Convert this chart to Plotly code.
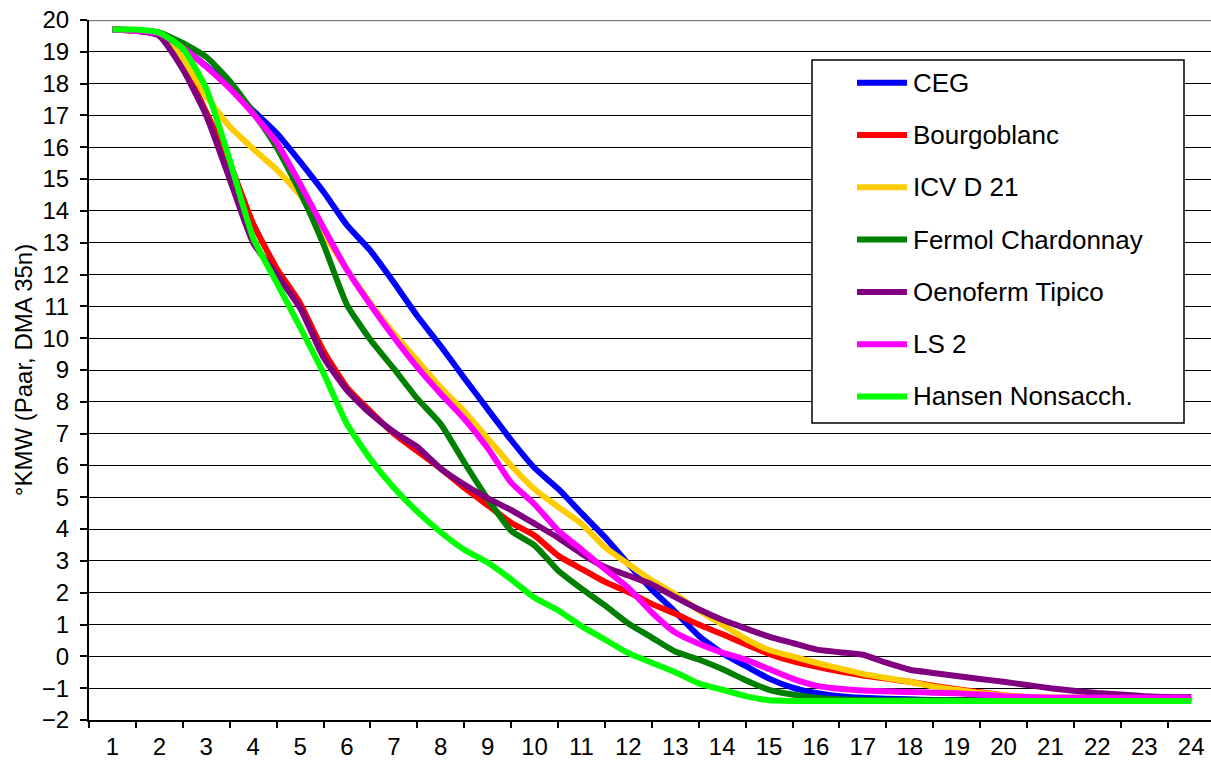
import plotly.graph_objects as go

# ---------------- data ----------------
DAYS = [1, 1.5, 2, 2.5, 3, 3.5, 4, 4.5, 5, 5.5, 6, 6.5, 7, 7.5, 8, 8.5, 9, 9.5,
        10, 10.5, 11, 11.5, 12, 12.5, 13, 13.5, 14, 14.5, 15, 15.5, 16, 16.5,
        17, 17.5, 18, 18.5, 19, 19.5, 20, 20.5, 21, 21.5, 22, 22.5, 23, 23.5, 24]

DAY_LABELS = ["1", "2", "3", "4", "5", "6", "7", "8", "9", "10", "11", "12",
              "13", "14", "15", "16", "17", "18", "19", "20", "21", "22", "23", "24"]

CEG = [19.7, 19.68, 19.6, 19.12, 18.55, 17.9, 17.15, 16.45, 15.55, 14.6,
       13.55, 12.75, 11.75, 10.7, 9.75, 8.75, 7.77, 6.8, 5.92, 5.27,
       4.5, 3.75, 2.9, 2.1, 1.4, 0.65, 0.1, -0.3, -0.7, -0.98,
       -1.15, -1.25, -1.3, -1.33, -1.35, -1.37, -1.37, -1.37, -1.37, -1.37,
       -1.37, -1.37, -1.37, -1.37, -1.37, -1.37, -1.37]

BOURGOBLANC = [19.7, 19.66, 19.55, 18.6, 17.1, 15.5, 13.6, 12.2, 11.1, 9.6,
               8.45, 7.7, 7.0, 6.45, 5.9, 5.3, 4.75, 4.2, 3.8, 3.17,
               2.75, 2.34, 2.02, 1.65, 1.34, 1.0, 0.7, 0.38, 0.08, -0.15,
               -0.32, -0.47, -0.6, -0.7, -0.8, -0.92, -1.03, -1.13, -1.22, -1.28,
               -1.3, -1.3, -1.3, -1.3, -1.3, -1.3, -1.3]

ICV_D21 = [19.7, 19.66, 19.55, 18.78, 17.6, 16.65, 15.95, 15.3, 14.5, 13.3,
           12.15, 11.1, 10.15, 9.3, 8.45, 7.7, 6.85, 6.0, 5.25, 4.7,
           4.17, 3.43, 2.9, 2.39, 1.95, 1.45, 1.0, 0.55, 0.2, 0.0,
           -0.2, -0.38, -0.55, -0.68, -0.8, -0.95, -1.05, -1.15, -1.22, -1.28,
           -1.3, -1.3, -1.3, -1.3, -1.3, -1.3, -1.3]

FERMOL = [19.7, 19.68, 19.6, 19.28, 18.84, 18.08, 17.1, 16.0, 14.6, 12.95,
          11.05, 9.95, 9.04, 8.1, 7.3, 6.1, 4.95, 3.95, 3.49, 2.7,
          2.13, 1.6, 1.03, 0.59, 0.15, -0.1, -0.4, -0.75, -1.05, -1.2,
          -1.3, -1.35, -1.37, -1.38, -1.38, -1.38, -1.38, -1.38, -1.38, -1.38,
          -1.38, -1.38, -1.38, -1.38, -1.38, -1.38, -1.38]

OENOFERM = [19.7, 19.66, 19.5, 18.45, 17.0, 15.0, 13.0, 12.0, 10.95, 9.4,
            8.36, 7.63, 7.05, 6.58, 5.9, 5.4, 4.97, 4.6, 4.17, 3.73,
            3.23, 2.81, 2.54, 2.26, 1.86, 1.48, 1.15, 0.88, 0.62, 0.42,
            0.22, 0.13, 0.05, -0.2, -0.42, -0.52, -0.62, -0.71, -0.8, -0.9,
            -1.0, -1.08, -1.15, -1.2, -1.25, -1.28, -1.28]

LS2 = [19.7, 19.66, 19.58, 19.13, 18.53, 17.85, 17.05, 16.15, 14.85, 13.47,
       12.15, 11.05, 10.03, 9.09, 8.25, 7.47, 6.55, 5.46, 4.78, 3.96,
       3.36, 2.74, 2.15, 1.38, 0.75, 0.4, 0.12, -0.1, -0.4, -0.7,
       -0.92, -1.02, -1.07, -1.1, -1.12, -1.14, -1.16, -1.2, -1.25, -1.28,
       -1.3, -1.3, -1.3, -1.3, -1.3, -1.3, -1.3]

HANSEN = [19.7, 19.7, 19.6, 19.1, 17.85, 15.6, 13.15, 11.75, 10.35, 8.9,
          7.3, 6.2, 5.3, 4.55, 3.9, 3.35, 2.95, 2.42, 1.84, 1.45,
          0.95, 0.53, 0.1, -0.2, -0.5, -0.85, -1.05, -1.25, -1.38, -1.4,
          -1.4, -1.4, -1.4, -1.4, -1.4, -1.4, -1.4, -1.4, -1.4, -1.4,
          -1.4, -1.4, -1.4, -1.4, -1.4, -1.4, -1.4]

SERIES_NAMES = ["CEG", "Bourgoblanc", "ICV D 21", "Fermol Chardonnay",
                "Oenoferm Tipico", "LS 2", "Hansen Nonsacch."]
SERIES_VALUES = [CEG, BOURGOBLANC, ICV_D21, FERMOL, OENOFERM, LS2, HANSEN]
SERIES_COLORS = ["#0000FF", "#FF0000", "#FFCC00", "#008000",
                 "#800080", "#FF00FF", "#00FF00"]

Y_TICKS = list(range(-2, 21))
X_LABEL_POS = list(range(1, 25))
X_BOUNDARIES = [i + 0.5 for i in range(0, 25)]

# ---------------- layout geometry ----------------
W, H = 1211, 760
L, R, T, B = 89, 0, 20, 40
PW, PH = W - L - R, H - T - B
CAT_W = 46.9
FONT = "Arial, Liberation Sans, sans-serif"
TICK_SIZE = 24
LEG_SIZE = 26


def px_x(px):
    return (px - L) / PW


def px_y(py):
    return 1 - (py - T) / PH


fig = go.Figure()
for name, vals, color in zip(SERIES_NAMES, SERIES_VALUES, SERIES_COLORS):
    fig.add_trace(go.Scatter(
        x=DAYS, y=vals, mode="lines", name=name, showlegend=False,
        line=dict(color=color, width=6, shape="spline", smoothing=0.5),
    ))

shapes = []
annotations = []
# top border line (grey)
shapes.append(dict(type="line", xref="paper", yref="y", x0=0, x1=1, y0=20, y1=20,
                   line=dict(color="#808080", width=2.5)))

# manual legend box
lx0, lx1, ly0, ly1 = 812, 1184, 60, 423
shapes.append(dict(type="rect", xref="paper", yref="paper",
                   x0=px_x(lx0), x1=px_x(lx1), y0=px_y(ly1), y1=px_y(ly0),
                   fillcolor="white", line=dict(color="black", width=1.5)))
for i, (name, color) in enumerate(zip(SERIES_NAMES, SERIES_COLORS)):
    cy = 82.7 + 52.3 * i
    shapes.append(dict(type="line", xref="paper", yref="paper",
                       x0=px_x(857), x1=px_x(907), y0=px_y(cy), y1=px_y(cy),
                       line=dict(color=color, width=6)))
    annotations.append(dict(xref="paper", yref="paper", x=px_x(911), y=px_y(cy),
                            text=name, showarrow=False, xanchor="left",
                            yanchor="middle",
                            font=dict(family=FONT, size=LEG_SIZE, color="black")))

fig.update_layout(
    width=W, height=H,
    margin=dict(l=L, r=R, t=T, b=B, pad=0, autoexpand=False),
    paper_bgcolor="white", plot_bgcolor="white",
    font=dict(family=FONT, size=TICK_SIZE, color="black"),
    shapes=shapes, annotations=annotations,
    showlegend=False,
)

fig.update_xaxes(
    range=[0.5, 0.5 + PW / CAT_W],
    automargin=False,
    tickmode="array", tickvals=X_LABEL_POS, ticktext=DAY_LABELS,
    ticks="", showgrid=False, zeroline=False,
    showline=True, linecolor="black", linewidth=2,
    tickfont=dict(family=FONT, size=TICK_SIZE, color="black"),
    ticklabelstandoff=4,
    minor=dict(tickmode="array", tickvals=X_BOUNDARIES, ticks="outside",
               ticklen=6, tickwidth=1.5, tickcolor="black", showgrid=False),
)

fig.update_yaxes(
    range=[-2, 20],
    automargin=False,
    tickmode="array", tickvals=Y_TICKS,
    ticks="outside", ticklen=7, tickwidth=1.5, tickcolor="black",
    showgrid=True, gridcolor="black", gridwidth=1,
    zeroline=False,
    showline=True, linecolor="black", linewidth=2,
    tickfont=dict(family=FONT, size=TICK_SIZE, color="black"),
    ticklabelstandoff=6,
    title=dict(text="°KMW (Paar, DMA 35n)",
               font=dict(family=FONT, size=TICK_SIZE, color="black"),
               standoff=2),
)

fig.write_html(
    "out.html",
    config={"displayModeBar": False},
    post_script="document.body.style.margin='0px';"
                "document.body.style.overflow='hidden';",
)
